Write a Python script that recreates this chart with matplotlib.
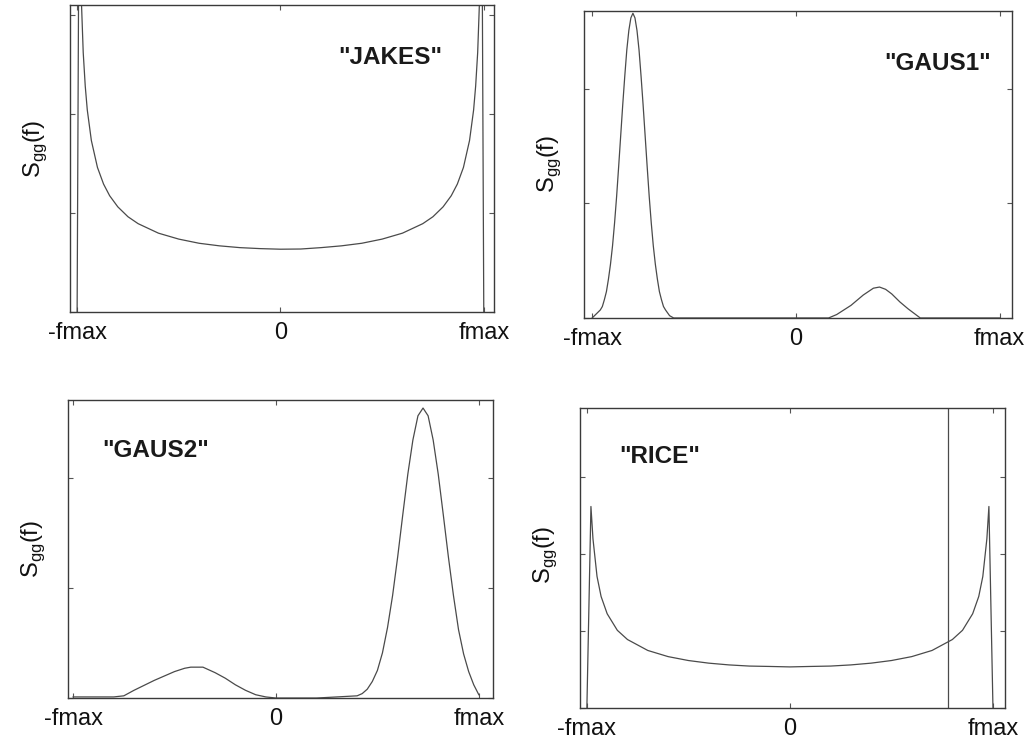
import matplotlib
matplotlib.use("Agg")
import matplotlib.pyplot as plt

plt.rcParams["font.family"] = ["Liberation Sans", "DejaVu Sans"]
plt.rcParams["mathtext.fontset"] = "custom"
plt.rcParams["mathtext.rm"] = "Liberation Sans"

# ----------------------------------------------------------------------
# Data (frequency in units of fmax, PSD in arbitrary units)
# ----------------------------------------------------------------------
jakes_f = [-1.0, -0.99, -0.98, -0.97, -0.96, -0.95, -0.93, -0.9, -0.87, -0.84,
           -0.8, -0.75, -0.7, -0.6, -0.5, -0.4, -0.3, -0.2, -0.1, 0.0,
           0.1, 0.2, 0.3, 0.4, 0.5, 0.6, 0.7, 0.75, 0.8, 0.84,
           0.87, 0.9, 0.93, 0.95, 0.96, 0.97, 0.98, 0.99, 1.0]
jakes_s = [0.0, 2.26, 1.60, 1.31, 1.14, 1.02, 0.866, 0.73, 0.646, 0.587,
           0.531, 0.481, 0.446, 0.398, 0.368, 0.347, 0.334, 0.325, 0.320, 0.317,
           0.318, 0.325, 0.334, 0.347, 0.368, 0.398, 0.446, 0.481, 0.531, 0.587,
           0.646, 0.73, 0.866, 1.02, 1.14, 1.31, 1.60, 2.26, 0.0]

gaus1_f = [-1.0, -0.96, -0.95, -0.94, -0.93, -0.92, -0.91, -0.9, -0.89, -0.88,
           -0.87, -0.86, -0.85, -0.84, -0.83, -0.82, -0.81, -0.8, -0.79, -0.78,
           -0.77, -0.76, -0.75, -0.74, -0.73, -0.72, -0.71, -0.7, -0.69, -0.68,
           -0.67, -0.66, -0.65, -0.64, -0.62, -0.6, -0.3, 0.0, 0.16, 0.2,
           0.27, 0.33, 0.38, 0.41, 0.44, 0.47, 0.51, 0.55, 0.61, 0.8, 1.0]
gaus1_s = [0.0, 0.07, 0.1, 0.16, 0.23, 0.34, 0.47, 0.63, 0.83, 1.06,
           1.32, 1.59, 1.86, 2.11, 2.34, 2.51, 2.62, 2.66, 2.62, 2.51,
           2.34, 2.11, 1.86, 1.59, 1.32, 1.06, 0.83, 0.63, 0.47, 0.34,
           0.23, 0.16, 0.1, 0.07, 0.02, 0.0, 0.0, 0.0, 0.0, 0.03,
           0.11, 0.2, 0.26, 0.27, 0.25, 0.21, 0.14, 0.08, 0.0, 0.0, 0.0]

gaus2_f = [-1.0, -0.9, -0.8, -0.75, -0.7, -0.6, -0.5, -0.45, -0.42, -0.36,
           -0.3, -0.25, -0.2, -0.15, -0.1, -0.05, 0.0, 0.2, 0.4, 0.425,
           0.45, 0.475, 0.5, 0.525, 0.55, 0.575, 0.6, 0.625, 0.65, 0.675,
           0.7, 0.725, 0.75, 0.775, 0.8, 0.825, 0.85, 0.875, 0.9, 0.925,
           0.95, 0.975, 1.0]
gaus2_s = [0.01, 0.01, 0.01, 0.02, 0.07, 0.16, 0.24, 0.27, 0.28, 0.28,
           0.23, 0.18, 0.12, 0.07, 0.03, 0.01, 0.0, 0.0, 0.02, 0.04,
           0.08, 0.15, 0.25, 0.41, 0.64, 0.93, 1.28, 1.66, 2.03, 2.34,
           2.56, 2.63, 2.56, 2.34, 2.03, 1.66, 1.28, 0.93, 0.62, 0.4,
           0.24, 0.12, 0.03]

rice_f = [-1.0, -0.98, -0.97, -0.95, -0.93, -0.9, -0.85, -0.8, -0.7, -0.6,
          -0.5, -0.4, -0.3, -0.2, -0.1, 0.0, 0.1, 0.2, 0.3, 0.4,
          0.5, 0.6, 0.7, 0.8, 0.85, 0.9, 0.93, 0.95, 0.97, 0.98, 1.0]
rice_s = [0.0, 2.62, 2.2, 1.71, 1.45, 1.225, 1.01, 0.89, 0.748, 0.668,
          0.617, 0.583, 0.56, 0.545, 0.54, 0.534, 0.54, 0.545, 0.56, 0.583,
          0.617, 0.668, 0.748, 0.89, 1.01, 1.225, 1.45, 1.71, 2.2, 2.62, 0.0]
rice_los_f = 0.78   # line-of-sight Doppler component

xtick_pos = [-1, 0, 1]
xtick_labels = ["-fmax", "0", "fmax"]

# ----------------------------------------------------------------------
# Plot
# ----------------------------------------------------------------------
fig = plt.figure(figsize=(10.34, 7.48), dpi=100)

panels = [
    # rect, f, S, title, text pos, ylim, yticks, xlim, ylabel y
    ([0.0677, 0.5829, 0.410, 0.4104], jakes_f, jakes_s, '"JAKES"', (0.755, 0.83),
     1.55, [0, 0.5, 1.0, 1.5], (-1.035, 1.05), 0.53),
    ([0.5648, 0.5749, 0.4139, 0.4104], gaus1_f, gaus1_s, '"GAUS1"', (0.825, 0.83),
     2.68, [0, 1, 2], (-1.04, 1.06), 0.5),
    ([0.0658, 0.0668, 0.411, 0.398], gaus2_f, gaus2_s, '"GAUS2"', (0.207, 0.832),
     2.7, [0, 1, 2], (-1.025, 1.07), 0.5),
    ([0.5609, 0.0535, 0.411, 0.401], rice_f, rice_s, '"RICE"', (0.188, 0.837),
     3.9, [0, 1, 2, 3], (-1.034, 1.059), 0.51),
]

line_col = "#4a4a4a"
for rect, f, s, name, tpos, ytop, yt, xl, ylab_y in panels:
    ax = fig.add_axes(rect)
    ax.plot(f, s, color=line_col, lw=0.9)
    if name == '"RICE"':
        ax.axvline(rice_los_f, color=line_col, lw=0.9)
    ax.set_xlim(*xl)
    ax.set_ylim(0, ytop)
    ax.set_xticks(xtick_pos)
    ax.set_xticklabels(xtick_labels, fontsize=17)
    ax.set_yticks(yt)
    ax.set_yticklabels([])
    ax.tick_params(direction="in", length=3.5, width=0.8, color="#555555",
                   top=True, right=True, pad=7, labelcolor="#111111")
    for sp in ax.spines.values():
        sp.set_color("#3a3a3a")
        sp.set_linewidth(1.0)
    ax.set_ylabel(r"S$_{\mathregular{gg}}$(f)", fontsize=17, color="#111111")
    ax.yaxis.set_label_coords(-0.05, ylab_y)
    ax.text(tpos[0], tpos[1], name, transform=ax.transAxes, ha="center",
            va="center", fontsize=17.5, fontweight="bold", color="#1a1a1a")

plt.savefig("out.png", dpi=100)
